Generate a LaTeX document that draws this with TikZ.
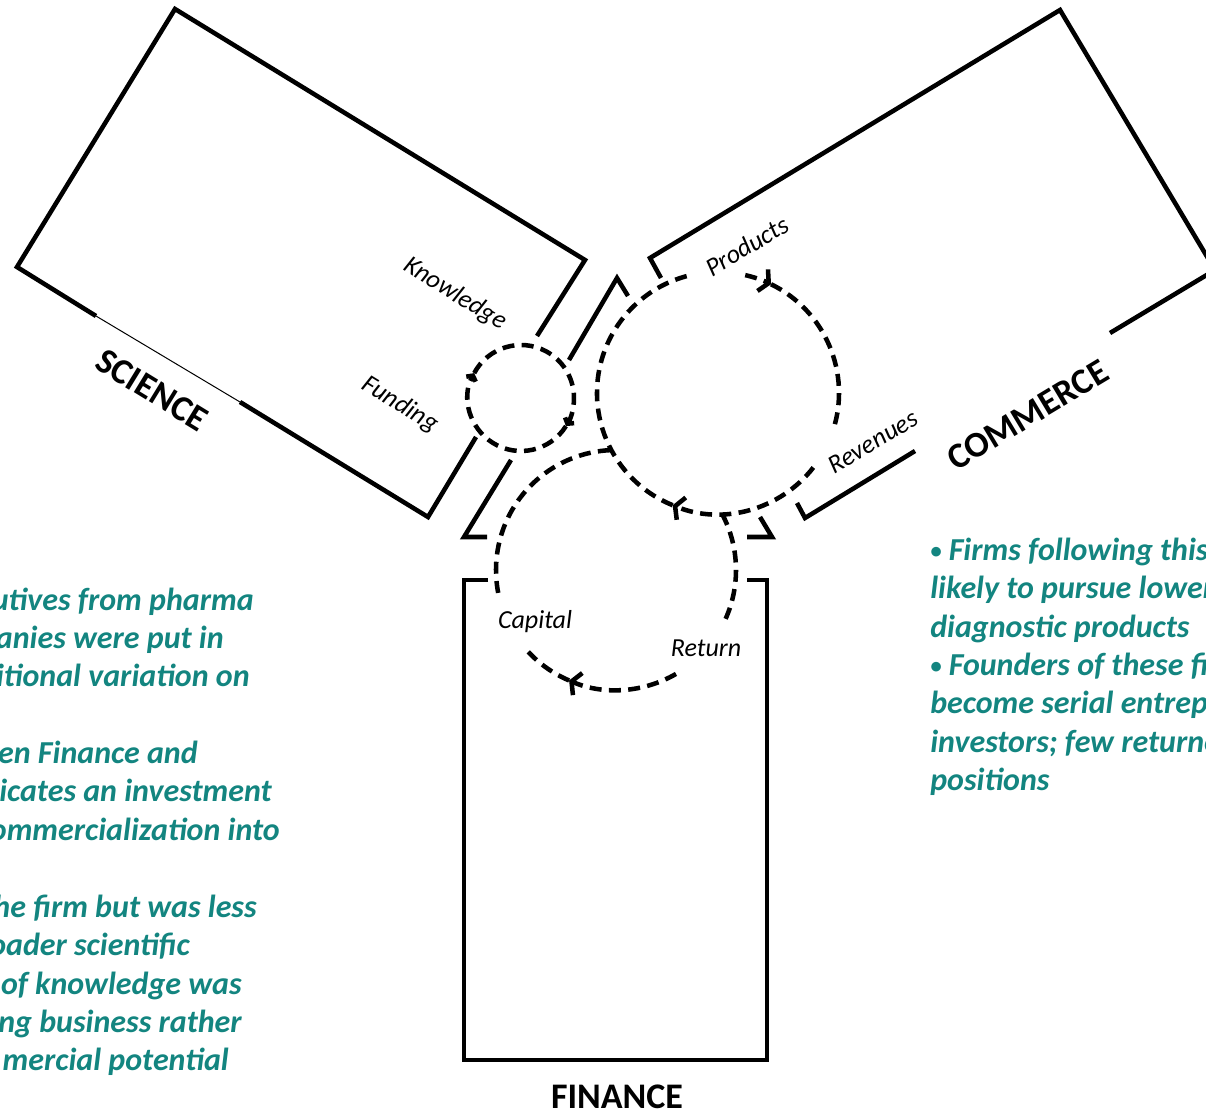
\documentclass[tikz,border=0pt]{standalone}
\usepackage{fontspec}
\setmainfont{Carlito}
\usetikzlibrary{arrows.meta}
\definecolor{noteteal}{RGB}{19,133,128}
\newcommand{\notebullet}{{\fontsize{17}{17}\selectfont\raisebox{1.5pt}{•}}}

\tikzset{
  boxline/.style={line width=3.4pt},
  loopline/.style={line width=3.4pt, dash pattern=on 9pt off 5.5pt},
  loopflow/.style={loopline, -{Straight Barb[length=5pt,width=18pt]}},
  smallflow/.style={loopline, -{Straight Barb[length=3pt,width=8pt]}},
  fieldlabel/.style={font=\fontsize{27}{32}\selectfont\bfseries, inner sep=0pt},
  flowlabel/.style={font=\fontsize{19.5}{23}\selectfont\itshape, inner sep=0pt},
  notetext/.style={font=\fontsize{24}{29}\selectfont\bfseries\itshape, text=noteteal, inner sep=0pt}
}

\begin{document}
\begin{tikzpicture}[x=0.75pt,y=0.75pt]
  \useasboundingbox (0,0) rectangle (1206,-1112);
  \clip (0,0) rectangle (1206,-1112);

  % Science box
  \draw[boxline] (537,-336) -- (585,-260) -- (175,-9) -- (17,-267) -- (96,-316);
  \draw[boxline] (240,-402) -- (428,-517) -- (476,-437);
  \draw[line width=0.75pt] (96,-316) -- (240,-402);

  % Commerce box
  \draw[boxline] (661,-278) -- (650,-258) -- (1060,-10) -- (1215,-270) -- (1110,-333);
  \draw[boxline] (915,-451) -- (805,-518) -- (797,-503);

  % Finance box
  \draw[boxline] (488,-580) -- (464,-580) -- (464,-1060) -- (767,-1060) -- (767,-580) -- (747,-580);

  % Hub in the middle
  \draw[boxline] (569,-360) -- (617,-278) -- (628,-296);
  \draw[boxline] (511,-460) -- (464,-537) -- (487,-537);
  \draw[boxline] (747,-537) -- (772,-537) -- (760,-517);

  \coordinate (sci) at (521,-398);
  \coordinate (com) at (718,-393);
  \coordinate (fin) at (616,-570);

  % Science loop
  \draw[smallflow] (sci) ++(-32:53) arc[start angle=-32, end angle=-208, radius=53];
  \draw[smallflow] (sci) ++(152:53) arc[start angle=152, end angle=-32, radius=53];

  % Commerce loop
  \draw[loopflow] (com) ++(77:121) arc[start angle=77, end angle=64, radius=121];
  \draw[loopline] (com) ++(64:121) arc[start angle=64, end angle=-18, radius=121];
  \draw[loopflow] (com) ++(-38:121) arc[start angle=-38, end angle=-112, radius=121];
  \draw[loopline] (com) ++(-112:121) arc[start angle=-112, end angle=-256, radius=121];

  % Finance loop
  \draw[loopline] (fin) ++(27.8:120) arc[start angle=27.8, end angle=-24, radius=120];
  \draw[loopflow] (fin) ++(-60:120) arc[start angle=-60, end angle=-113, radius=120];
  \draw[loopline] (fin) ++(-113:120) arc[start angle=-113, end angle=-137, radius=120];
  \draw[loopline] (fin) ++(-169:120) arc[start angle=-169, end angle=-267.6, radius=120];

  % Flow labels
  \node[flowlabel, rotate=-31.5] (knowledge) at (455,-294) {Knowledge};
  \node[flowlabel, rotate=-31.5] (funding) at (400,-405) {Funding};
  \node[flowlabel, rotate=31] (products) at (747,-246) {Products};
  \node[flowlabel, rotate=31] (revenues) at (873,-442) {Revenues};
  \node[flowlabel] (capital) at (535,-622) {Capital};
  \node[flowlabel] (return) at (706,-648) {Return};

  % Field labels
  \node[fieldlabel, rotate=-31.5] (science) at (152,-390) {SCIENCE};
  \node[fieldlabel, rotate=31] (commerce) at (1028,-415) {COMMERCE};
  \node[fieldlabel] (finance) at (617,-1097) {FINANCE};

  % Notes, cut by the page edges
  \foreach \yy/\xx/\txt [count=\i] in {610/254/utives from pharma, 648/224/anies were put in,
      686/250/itional variation on, 763/198/en Finance and, 801/272/icates an investment,
      840/280/ommercialization into, 917/257/he firm but was less, 955/190/oader scientific,
      994/242/of knowledge was, 1032/242/ng business rather, 1070/229/mercial potential}
    \node[notetext, anchor=base east] (leftnote\i) at (\xx,-\yy) {\txt};

  \foreach \yy/\txt [count=\i] in {560/\notebullet{} Firms following this, 598/likely to pursue lower,
      637/diagnostic products, 675/\notebullet{} Founders of these fi, 713/become serial entrep,
      752/investors; few returne, 790/positions}
    \node[notetext, anchor=base west] (rightnote\i) at (930,-\yy) {\txt};
\end{tikzpicture}
\end{document}
